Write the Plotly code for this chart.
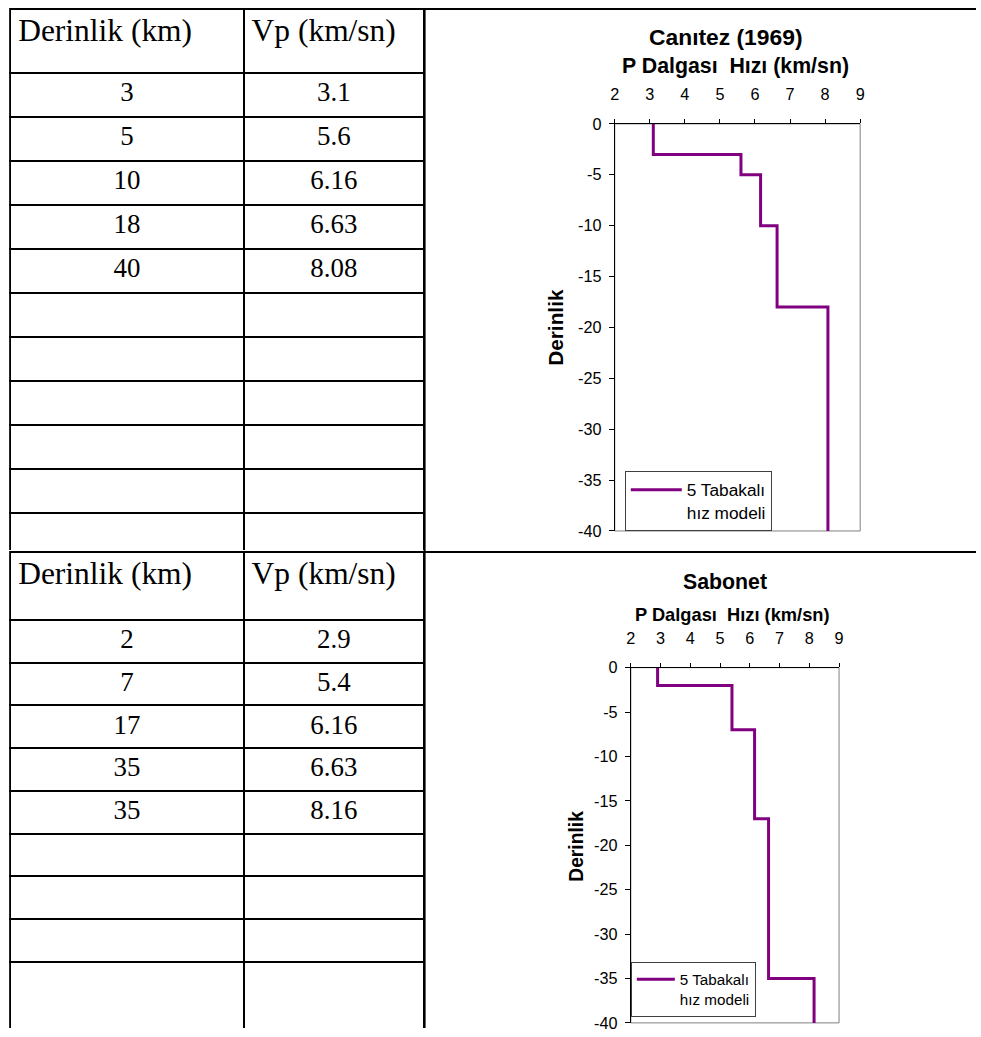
import plotly.graph_objects as go

# ---------------- data ----------------
depth_canitez = [3, 5, 10, 18, 40]
vp_canitez = [3.1, 5.6, 6.16, 6.63, 8.08]
depth_sabonet = [2, 7, 17, 35, 35]
vp_sabonet = [2.9, 5.4, 6.16, 6.63, 8.16]

table_headers = ["Derinlik (km)", "Vp (km/sn)"]
chart_titles = ["Canıtez (1969)", "Sabonet"]
x_title = "P Dalgası\u00a0 Hızı (km/sn)"
y_title = "Derinlik"
legend_name = "5 Tabakalı<br>hız modeli"
x_ticks = [2, 3, 4, 5, 6, 7, 8, 9]
y_ticks = [0, -5, -10, -15, -20, -25, -30, -35, -40]
max_depth = 40
empty_rows_1 = 6
empty_rows_2 = 4

# ---------------- page geometry ----------------
# Observed rendering: the page keeps an 8px body margin and the whole page
# (figure + margins) is photographed scaled to 981x1037.
W, H = 981, 1037
M = 8
SX = W / (W + 2 * M)
SY = H / (H + 2 * M)


def cx(p):
    return p / SX - M


def cy(p):
    return p / SY - M


def px(p):
    """picture x -> paper x"""
    return cx(p) / W


def py(p):
    """picture y -> paper y"""
    return 1 - cy(p) / H


def fs(s):
    """picture font size -> css font size"""
    return s / SY


def step_xy(depths, vps):
    tops = [0] + depths[:-1]
    xs = list(vps) + [vps[-1]]
    ys = [-t for t in tops] + [-max_depth]
    return xs, ys


SERIF = "Liberation Serif"
SANS = "Liberation Sans"
PURPLE = "#800080"

fig = go.Figure()


# ---------------- tables ----------------
def table_trace(depths, vps, n_empty, y0, y1, header_h, cell_h, last_tall=False):
    col1 = [str(d) for d in depths] + [""] * n_empty
    col2 = [str(v) for v in vps] + [""] * n_empty
    if last_tall:
        col1[-1] = "\u00a0<br>\u00a0"
        col2[-1] = "\u00a0<br>\u00a0"
    return go.Table(
        domain=dict(x=[px(13), px(425)], y=[max(py(y1), 0), min(py(y0), 1)]),
        columnwidth=[234, 181],
        header=dict(values=table_headers, align="left", height=header_h,
                    font=dict(family=SERIF, size=fs(31), color="black"),
                    line=dict(color="black", width=2), fill=dict(color="white")),
        cells=dict(values=[col1, col2], align="center", height=cell_h,
                   font=dict(family=SERIF, size=fs(26.5), color="black"),
                   line=dict(color="black", width=2), fill=dict(color="white")),
    )


fig.add_trace(table_trace(depth_canitez, vp_canitez, empty_rows_1, 0, 551,
                          cy(71), 44.0))
fig.add_trace(table_trace(depth_sabonet, vp_sabonet, empty_rows_2, 552, 1037,
                          67 / SY, 42.1 / SY, last_tall=True))

# ---------------- charts ----------------
x1, y1 = step_xy(depth_canitez, vp_canitez)
x2, y2 = step_xy(depth_sabonet, vp_sabonet)

fig.add_trace(go.Scatter(x=x1, y=y1, mode="lines", name=legend_name,
                         line=dict(color=PURPLE, width=3, shape="vh"),
                         xaxis="x", yaxis="y", legend="legend", showlegend=True))
fig.add_trace(go.Scatter(x=x2, y=y2, mode="lines", name=legend_name,
                         line=dict(color=PURPLE, width=3, shape="vh"),
                         xaxis="x2", yaxis="y2", legend="legend2", showlegend=True))


def xaxis_cfg(x0, x1_, anchor):
    return dict(domain=[px(x0), px(x1_)], anchor=anchor, side="top", range=[2, 9],
                tickmode="array", tickvals=x_ticks, ticktext=[str(t) for t in x_ticks],
                ticks="outside", ticklen=4, tickcolor="black", tickwidth=1,
                showline=True, linecolor="black", linewidth=1,
                showgrid=False, zeroline=False, ticklabelstandoff=12,
                tickfont=dict(family=SANS, size=fs(16), color="black"))


def yaxis_cfg(top, bottom, anchor):
    return dict(domain=[py(bottom), py(top)], anchor=anchor, range=[-max_depth, 0],
                tickmode="array", tickvals=y_ticks, ticktext=[str(t) for t in y_ticks],
                ticks="outside", ticklen=5, tickcolor="black", tickwidth=1,
                showline=True, linecolor="black", linewidth=1,
                showgrid=False, zeroline=False, ticklabelstandoff=4,
                tickfont=dict(family=SANS, size=fs(16), color="black"))


legend_common = dict(xanchor="left", yanchor="bottom", bgcolor="white",
                     bordercolor="#404040", borderwidth=1, valign="top")

annotations = [
    dict(text="<b>%s</b>" % chart_titles[0], x=px(725), y=py(36), font=dict(size=fs(22.5))),
    dict(text="<b>%s</b>" % x_title, x=px(734), y=py(65), font=dict(size=fs(21))),
    dict(text="<b>%s</b>" % y_title, x=px(555), y=py(327), font=dict(size=fs(20.5)), textangle=-90),
    dict(text="<b>%s</b>" % chart_titles[1], x=px(724), y=py(582), font=dict(size=fs(21))),
    dict(text="<b>%s</b>" % x_title, x=px(731), y=py(615), font=dict(size=fs(18))),
    dict(text="<b>%s</b>" % y_title, x=px(576), y=py(847), font=dict(size=fs(19)), textangle=-90),
]
for a in annotations:
    a.update(xref="paper", yref="paper", xanchor="center", yanchor="middle", showarrow=False)
    a["font"].update(family=SANS, color="black")

shapes = [
    dict(type="rect", xref="x domain", yref="y domain", x0=0, x1=1, y0=0, y1=1,
         line=dict(color="#808080", width=1), layer="below"),
    dict(type="rect", xref="x2 domain", yref="y2 domain", x0=0, x1=1, y0=0, y1=1,
         line=dict(color="#808080", width=1), layer="below"),
    dict(type="line", xref="paper", yref="paper", x0=px(425), x1=px(425), y0=0, y1=1,
         line=dict(color="black", width=2)),
    dict(type="line", xref="paper", yref="paper", x0=px(425), x1=1, y0=py(552), y1=py(552),
         line=dict(color="black", width=2)),
    dict(type="line", xref="paper", yref="paper", x0=px(425), x1=1, y0=1, y1=1,
         line=dict(color="black", width=2)),
]

fig.update_layout(
    width=W, height=H, autosize=False,
    margin=dict(l=0, r=0, t=0, b=0),
    paper_bgcolor="white", plot_bgcolor="white",
    xaxis=xaxis_cfg(614, 858, "y"),
    yaxis=yaxis_cfg(123, 531, "x"),
    xaxis2=xaxis_cfg(630, 837, "y2"),
    yaxis2=yaxis_cfg(668, 1024, "x2"),
    legend=dict(x=px(624), y=py(531), itemwidth=51,
                font=dict(family=SANS, size=fs(17), color="black"), **legend_common),
    legend2=dict(x=px(630), y=py(1018), itemwidth=38,
                 font=dict(family=SANS, size=fs(15), color="black"), **legend_common),
    annotations=annotations,
    shapes=shapes,
)

fig.write_html("out.html")
